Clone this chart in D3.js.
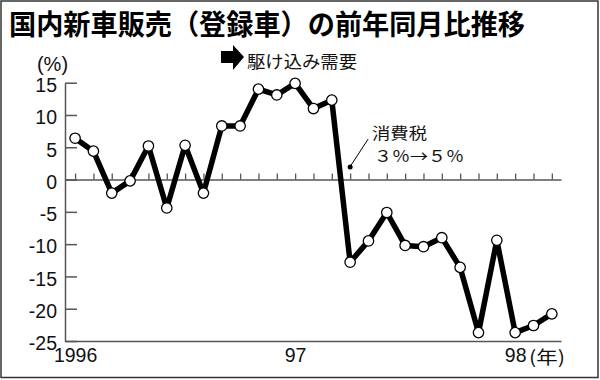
<!DOCTYPE html>
<html>
<head>
<meta charset="utf-8">
<script src="https://cdn.jsdelivr.net/npm/d3@7"></script>
<style>
  html, body { margin: 0; padding: 0; background: #fff; }
  svg { display: block; }
  .num { font-family: "Liberation Sans Narrow", "Arial Narrow", "Liberation Sans", sans-serif; }
  .jp { font-family: "Noto Sans CJK JP", sans-serif; }
</style>
</head>
<body>
<script>
// ---- data ----
const categories = [
  "1996-01","1996-02","1996-03","1996-04","1996-05","1996-06","1996-07","1996-08","1996-09","1996-10","1996-11","1996-12",
  "1997-01","1997-02","1997-03","1997-04","1997-05","1997-06","1997-07","1997-08","1997-09","1997-10","1997-11","1997-12",
  "1998-01","1998-02","1998-03"
];
const values = [
  6.4, 4.4, -2.1, -0.2, 5.2, -4.4, 5.3, -2.1, 8.3, 8.3, 14.0, 13.1,
  14.9, 11.0, 12.3, -12.8, -9.5, -5.1, -10.2, -10.4, -9.0, -13.6, -23.7, -9.4,
  -23.7, -22.6, -20.8
];
const yTicks = [15, 10, 5, 0, -5, -10, -15, -20, -25];
const yearTickMonths = ["1996-01", "1997-01", "1998-01"];
const yearTickLabels = ["1996", "97", "98"];
const titleText = "国内新車販売（登録車）の前年同月比推移";
const unitLabel = "(%)";
const yearUnit = "(年)";
const rushLabel = "駆け込み需要";
const taxLabel1 = "消費税";
const taxLabel2 = "３％→５％";
const taxMonth = "1997-04";

// ---- layout ----
const W = 600, H = 380;
const svg = d3.select("body").append("svg").attr("width", W).attr("height", H);

svg.append("rect").attr("x", 0).attr("y", 0).attr("width", W).attr("height", H).attr("fill", "#fff");
svg.append("rect").attr("x", 1).attr("y", 1).attr("width", 597).attr("height", 376.5)
  .attr("fill", "none").attr("stroke", "#333").attr("stroke-width", 1.5);

// title
svg.append("text").attr("class", "jp")
  .attr("x", 9).attr("y", 23).attr("dominant-baseline", "central")
  .attr("font-size", 28).attr("font-weight", 700).attr("fill", "#000")
  .attr("textLength", 516).attr("lengthAdjust", "spacingAndGlyphs")
  .text(titleText);

const idx = new Map(categories.map((c, i) => [c, i]));
const x = d3.scaleLinear().domain([-0.55, categories.length - 0.5]).range([65, 561]);
const y = d3.scaleLinear().domain([-25, 15]).range([341, 82.7]);

const axisColor = "#555";

// y axis
const yAxis = svg.append("g").attr("transform", `translate(${x.range()[0]},0)`)
  .call(d3.axisLeft(y).tickValues(yTicks).tickSizeInner(-12).tickSizeOuter(0).tickPadding(8).tickFormat(d => String(d)));
yAxis.select(".domain").attr("stroke", axisColor).attr("stroke-width", 1.5);
yAxis.selectAll(".tick line").attr("stroke", axisColor).attr("stroke-width", 1.5);
yAxis.selectAll(".tick text").attr("class", "num").attr("font-size", 19.5).attr("fill", "#111").attr("dy", "0.45em");

// unit label
svg.append("text").attr("class", "num").attr("x", 52.5).attr("y", 64)
  .attr("text-anchor", "middle").attr("dominant-baseline", "central")
  .attr("font-size", 20).attr("fill", "#111").text(unitLabel);

// zero line with month ticks
const zeroAxis = svg.append("g").attr("transform", `translate(0,${y(0)})`)
  .call(d3.axisTop(x).tickValues(d3.range(categories.length)).tickSizeInner(6).tickSizeOuter(0).tickFormat(""));
zeroAxis.select(".domain").attr("stroke", axisColor).attr("stroke-width", 1.5);
zeroAxis.selectAll(".tick line").attr("stroke", axisColor).attr("stroke-width", 1.3);

// bottom axis
const xAxis = svg.append("g").attr("transform", `translate(0,${y(-25)})`)
  .call(d3.axisBottom(x).tickValues(yearTickMonths.map(m => idx.get(m)))
    .tickFormat((d, i) => yearTickLabels[i]).tickSize(0).tickPadding(7));
xAxis.select(".domain").attr("stroke", axisColor).attr("stroke-width", 1.5);
xAxis.selectAll(".tick text").attr("class", "num").attr("font-size", 19.5).attr("fill", "#111");

svg.append("text").attr("class", "jp")
  .attr("x", 529).attr("y", 356).attr("dominant-baseline", "central")
  .attr("font-size", 18).attr("fill", "#111")
  .attr("textLength", 36).attr("lengthAdjust", "spacingAndGlyphs")
  .text(yearUnit);

// line
const line = d3.line().x((d, i) => x(i)).y(d => y(d));
svg.append("path").datum(values).attr("d", line)
  .attr("fill", "none").attr("stroke", "#000").attr("stroke-width", 5.5)
  .attr("stroke-linejoin", "round");

svg.append("g").selectAll("circle").data(values).join("circle")
  .attr("cx", (d, i) => x(i)).attr("cy", d => y(d)).attr("r", 5.2)
  .attr("fill", "#fff").attr("stroke", "#000").attr("stroke-width", 1.3);

// rush-demand arrow annotation
const arrow = svg.append("g");
arrow.append("path")
  .attr("d", "M221,51 L233,51 L233,45 L244,57 L233,70 L233,63 L221,63 Z")
  .attr("fill", "#000");
svg.append("text").attr("class", "jp")
  .attr("x", 247).attr("y", 60).attr("dominant-baseline", "central")
  .attr("font-size", 17).attr("fill", "#111")
  .attr("textLength", 110).attr("lengthAdjust", "spacingAndGlyphs")
  .text(rushLabel);

// tax annotation
const tx = x(idx.get(taxMonth)), ty = y(0) - 12.5;
svg.append("circle").attr("cx", tx).attr("cy", ty).attr("r", 2.5).attr("fill", "#000");
svg.append("line").attr("x1", tx + 1).attr("y1", ty - 2).attr("x2", tx + 18).attr("y2", ty - 28)
  .attr("stroke", "#000").attr("stroke-width", 1);
svg.append("text").attr("class", "jp")
  .attr("x", 372).attr("y", 132).attr("dominant-baseline", "central")
  .attr("font-size", 16).attr("fill", "#111")
  .attr("textLength", 55).attr("lengthAdjust", "spacingAndGlyphs")
  .text(taxLabel1);
svg.append("text").attr("class", "jp")
  .attr("x", 374).attr("y", 155).attr("dominant-baseline", "central")
  .attr("font-size", 16).attr("fill", "#111")
  .attr("textLength", 90).attr("lengthAdjust", "spacingAndGlyphs")
  .text(taxLabel2);
</script>
</body>
</html>
